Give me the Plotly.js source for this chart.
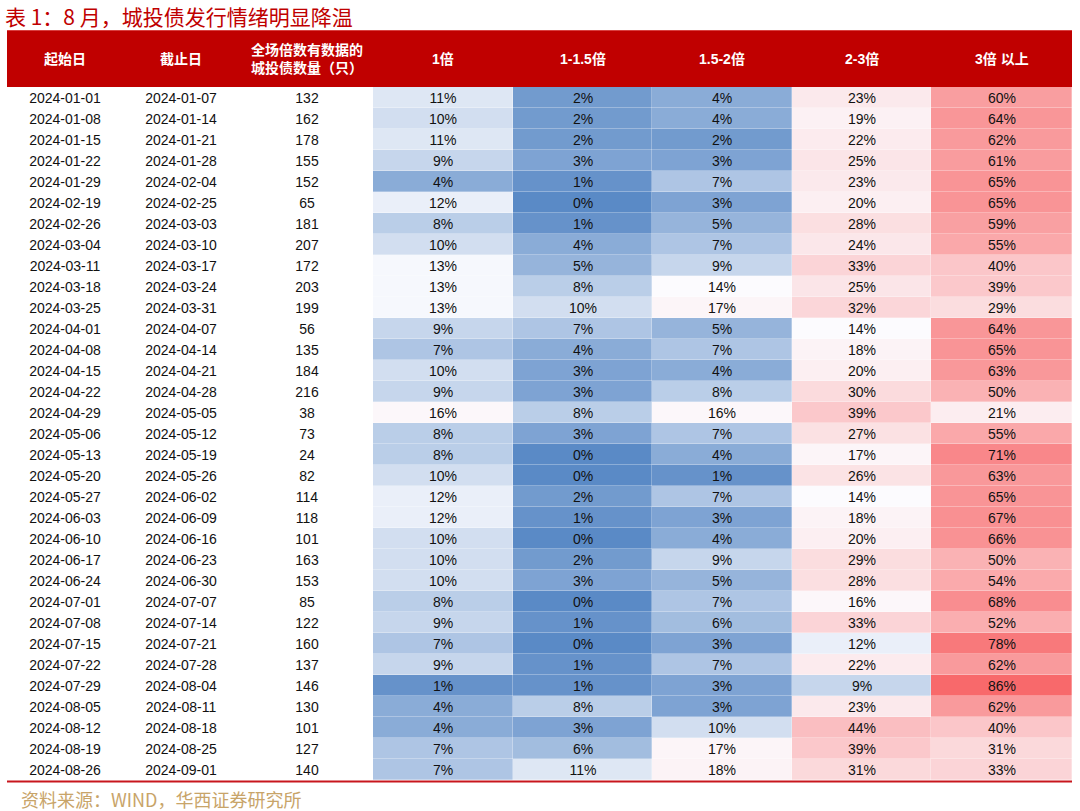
<!DOCTYPE html>
<html>
<head>
<meta charset="utf-8">
<script src="https://cdn.plot.ly/plotly-3.0.1.min.js"></script>
<style>
  html, body { margin: 0; padding: 0; background: #fff; }
  #plot { width: 1080px; height: 811px; }
</style>
</head>
<body>
<div id="plot"></div>
<script>
// table 1: weekly bid multiple buckets for chengtou bonds, colored like excel's red-white-blue scale

// column headers
let headers = ['起始日', '截止日', '全场倍数有数据的<br>城投债数量（只）', '1倍', '1-1.5倍', '1.5-2倍', '2-3倍', '3倍 以上']

let startDates = ['2024-01-01','2024-01-08','2024-01-15','2024-01-22','2024-01-29','2024-02-19','2024-02-26','2024-03-04','2024-03-11','2024-03-18','2024-03-25','2024-04-01','2024-04-08','2024-04-15','2024-04-22','2024-04-29','2024-05-06','2024-05-13','2024-05-20','2024-05-27','2024-06-03','2024-06-10','2024-06-17','2024-06-24','2024-07-01','2024-07-08','2024-07-15','2024-07-22','2024-07-29','2024-08-05','2024-08-12','2024-08-19','2024-08-26']
let endDates = ['2024-01-07','2024-01-14','2024-01-21','2024-01-28','2024-02-04','2024-02-25','2024-03-03','2024-03-10','2024-03-17','2024-03-24','2024-03-31','2024-04-07','2024-04-14','2024-04-21','2024-04-28','2024-05-05','2024-05-12','2024-05-19','2024-05-26','2024-06-02','2024-06-09','2024-06-16','2024-06-23','2024-06-30','2024-07-07','2024-07-14','2024-07-21','2024-07-28','2024-08-04','2024-08-11','2024-08-18','2024-08-25','2024-09-01']
let bondCounts = [132,162,178,155,152,65,181,207,172,203,199,56,135,184,216,38,73,24,82,114,118,101,163,153,85,122,160,137,146,130,101,127,140]

// share of bonds in each multiple bucket (%)
let m1 = [11,10,11,9,4,12,8,10,13,13,13,9,7,10,9,16,8,8,10,12,12,10,10,10,8,9,7,9,1,4,4,7,7]
let m1to15 = [2,2,2,3,1,0,1,4,5,8,10,7,4,3,3,8,3,0,0,2,1,0,2,3,0,1,0,1,1,8,3,6,11]
let m15to2 = [4,4,2,3,7,3,5,7,9,14,17,5,7,4,8,16,7,4,1,7,3,4,9,5,7,6,3,7,3,3,10,17,18]
let m2to3 = [23,19,22,25,23,20,28,24,33,25,32,14,18,20,30,39,27,17,26,14,18,20,29,28,16,33,12,22,9,23,44,39,31]
let m3plus = [60,64,62,61,65,65,59,55,40,39,29,64,65,63,50,21,55,71,63,65,67,66,50,54,68,52,78,62,86,62,40,31,33]

// page geometry (pixels)
let W = 1080, H = 811
let left = 7, right = 1072
let headTop = 31, headBottom = 87
let rowH = 21
let colCenters = [65, 181, 307]  // text columns
let heatEdges = [373, 513, 652, 792, 931, 1072]  // colored columns

let nRows = startDates.length
let rowY = []
for (let i = 0; i < nRows; i++) rowY.push(headBottom + rowH * (i + 0.5))

// z matrix: rows x 5 buckets
let z = []
for (let i = 0; i < nRows; i++) {
    z.push([m1[i], m1to15[i], m15to2[i], m2to3[i], m3plus[i]])
}

let zMax = 86, zMid = 13.5

let heat = {
    type: 'heatmap',
    x: heatEdges,
    y: rowY,
    z: z,
    zmin: 0,
    zmax: zMax,
    colorscale: [[0, '#5A8AC6'], [zMid / zMax, '#FCFCFF'], [1, '#F8696B']],
    showscale: false,
    xgap: 0.3,
    ygap: 0.3,
    texttemplate: '%{z}%',
    textfont: { family: 'Liberation Sans, Arial, sans-serif', size: 14, color: '#111' },
    hoverinfo: 'skip'
}

// scatter text sits a touch higher than heatmap text, nudge it down
let textY = rowY.map(y => y + 1.5)

function textCol(xc, vals) {
    return {
        type: 'scatter',
        mode: 'text',
        x: vals.map(() => xc),
        y: textY,
        text: vals,
        textposition: 'middle center',
        textfont: { family: 'Liberation Sans, Arial, sans-serif', size: 14, color: '#111' },
        hoverinfo: 'skip',
        showlegend: false
    }
}

let data = [heat, textCol(colCenters[0], startDates), textCol(colCenters[1], endDates), textCol(colCenters[2], bondCounts)]

// header labels sit over each column
let headX = colCenters.concat([])
for (let k = 0; k < 5; k++) headX.push((heatEdges[k] + heatEdges[k + 1]) / 2)

let annotations = headers.map((h, k) => ({
    x: headX[k],
    y: (headTop + headBottom) / 2,
    xref: 'x', yref: 'y',
    text: '<b>' + h + '</b>',
    showarrow: false,
    align: 'left',
    font: { family: 'Liberation Sans, Noto Sans CJK SC, sans-serif', size: 14, color: '#fff' }
}))

annotations.push({
    x: 4, y: 15.5, xref: 'x', yref: 'y',
    xanchor: 'left', yanchor: 'middle',
    text: '表 1：8 月，城投债发行情绪明显降温',
    showarrow: false,
    borderpad: 0,
    font: { family: 'Noto Sans CJK SC, sans-serif', size: 21, color: '#C00000' }
})
annotations.push({
    x: 19, y: 799, xref: 'x', yref: 'y',
    xanchor: 'left', yanchor: 'middle',
    text: '资料来源：WIND，华西证券研究所',
    showarrow: false,
    font: { family: 'Noto Sans CJK SC, sans-serif', size: 18, color: '#C8A469' }
})

let layout = {
    width: W,
    height: H,
    margin: { l: 0, r: 0, t: 0, b: 0 },
    paper_bgcolor: '#fff',
    plot_bgcolor: '#fff',
    showlegend: false,
    xaxis: { range: [0, W], visible: false, fixedrange: true },
    yaxis: { range: [H, 0], visible: false, fixedrange: true },
    shapes: [
        // red header band
        { type: 'rect', xref: 'x', yref: 'y', x0: left, x1: right, y0: headTop, y1: headBottom, fillcolor: '#C00000', line: { width: 0 }, layer: 'below' },
        { type: 'line', xref: 'x', yref: 'y', x0: left, x1: right, y0: headTop - 0.5, y1: headTop - 0.5, line: { color: '#D84040', width: 1 } },
        // bottom rule
        { type: 'line', xref: 'x', yref: 'y', x0: left, x1: right, y0: headBottom + rowH * nRows + 1.5, y1: headBottom + rowH * nRows + 1.5, line: { color: '#C8161D', width: 2 } }
    ],
    annotations: annotations
}

Plotly.newPlot('plot', data, layout, { displayModeBar: false, staticPlot: true })
</script>
</body>
</html>
